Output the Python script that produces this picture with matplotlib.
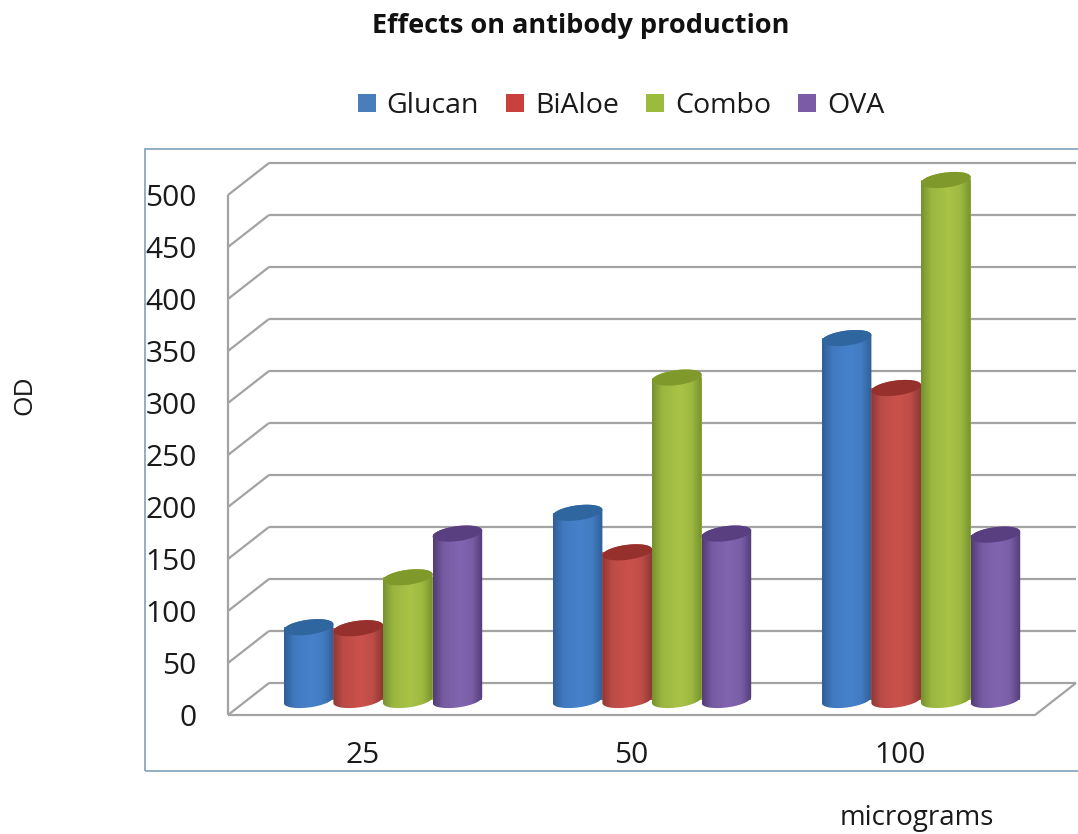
import numpy as np
import matplotlib
matplotlib.use("Agg")
import matplotlib.pyplot as plt
from matplotlib.patches import Polygon, Patch, Rectangle
from matplotlib.colors import LinearSegmentedColormap, to_rgb

# ---- data
categories = ["25", "50", "100"]
series_names = ["Glucan", "BiAloe", "Combo", "OVA"]
glucan = [70, 180, 348]
bialoe = [69, 142, 300]
combo = [118, 310, 500]
ova = [160, 160, 159]
y_ticks = [0, 50, 100, 150, 200, 250, 300, 350, 400, 450, 500]
title = "Effects on antibody production"
y_label = "OD"
x_label = "micrograms"

# ---- style
W, H = 1078, 834
FONT = "Open Sans"
plt.rcParams["font.family"] = [FONT, "DejaVu Sans"]
edge_colors = ["#2f5f98", "#8e3835", "#76922e", "#523c76"]
mid_colors = ["#4682cb", "#cb524c", "#a8c346", "#8265b0"]
cap_colors = ["#2f669f", "#95302c", "#7f9a2b", "#5a3f80"]
legend_colors = ["#4a7ebb", "#c9403c", "#9bbb3c", "#7b5aa6"]
grid_color = "#a3a3a3"
frame_color = "#8aa8bd"
text_color = "#1a1a1a"

fig = plt.figure(figsize=(W / 100, H / 100), dpi=100, facecolor="white")
L, R, T, B = 228, 1035, 195, 715
ax = fig.add_axes([L / W, 1 - B / H, (R - L) / W, (B - T) / H])
ax.set_xlim(-0.5, 2.5)
ax.set_ylim(0, 500)
ax.patch.set_alpha(0)
for s in ax.spines.values():
    s.set_visible(False)

ux = 3.0 / (R - L)      # data units per pixel, x
uy = 500.0 / (B - T)    # data units per pixel, y

# chart frame (runs off the right edge)
fig.add_artist(Rectangle((145 / W, 1 - 771 / H), 1000 / W, 622 / H,
                         transform=fig.transFigure, fill=False,
                         ec=frame_color, lw=1.3, zorder=0))

# 3-D walls
dx, dy = 41 * ux, 32 * uy
gkw = dict(color=grid_color, lw=1.6, clip_on=False, zorder=1, solid_capstyle="butt")
for v in y_ticks:
    ax.plot([-0.5, -0.5 + dx], [v, v + dy], **gkw)
    ax.plot([-0.5 + dx, 2.5 + dx], [v + dy, v + dy], **gkw)
ax.plot([-0.5, -0.5], [0, 500], **gkw)
ax.plot([-0.5, 2.5, 2.5 + dx], [0, 0, dy], **gkw)

# cylinders
a = 24.8      # half width, px
b = 7.5       # half height, px
tilt = 3.0    # right side rises, px
off_x = 20.5 * ux
base = 15 * uy
w = 2 * a * ux
ramp_pos = [0.0, 0.2, 0.55, 0.8, 1.0]


def curve(cx, cy, t):
    return np.column_stack([cx + a * np.cos(t) * ux,
                            cy + (b * np.sin(t) + tilt * np.cos(t)) * uy])


def blend(c1, c2, f):
    r1, r2 = np.array(to_rgb(c1)), np.array(to_rgb(c2))
    return tuple(r1 + (r2 - r1) * f)


all_series = [glucan, bialoe, combo, ova]
z = 3
for i in range(len(categories)):
    for j, vals in enumerate(all_series):
        cx = i + off_x + (j - 1.5) * w
        v = vals[i]
        ax.bar(cx, v, width=w, bottom=base, color=mid_colors[j], lw=0,
               clip_on=False, zorder=z)
        e, m = edge_colors[j], mid_colors[j]
        stops = [e, blend(e, m, 0.75), m, blend(e, m, 0.8), e]
        cmap = LinearSegmentedColormap.from_list("c", list(zip(ramp_pos, stops)))
        outline = np.vstack([curve(cx, base, np.linspace(np.pi, 2 * np.pi, 40)),
                             curve(cx, base + v, np.linspace(0, np.pi, 40))])
        clip = Polygon(outline, closed=True, transform=ax.transData)
        im = ax.imshow(np.linspace(0, 1, 64).reshape(1, -1), cmap=cmap, aspect="auto",
                       interpolation="bilinear",
                       extent=(cx - w / 2, cx + w / 2, base - 12 * uy, base + v + 12 * uy),
                       zorder=z + 0.1)
        im.set_clip_path(clip)
        im.set_clip_box(fig.bbox)
        cap = Polygon(curve(cx, base + v, np.linspace(0, 2 * np.pi, 80)), closed=True,
                      fc=cap_colors[j], ec="none", clip_on=False, zorder=z + 0.2)
        ax.add_patch(cap)
        z += 1
ax.set_xlim(-0.5, 2.5)
ax.set_ylim(0, 500)

# axes text
ax.set_yticks(y_ticks)
ax.set_yticklabels([str(v) for v in y_ticks], fontsize=21.5, color=text_color)
ax.set_xticks([0, 1, 2])
ax.set_xticklabels(categories, fontsize=21.5, color=text_color)
ax.tick_params(axis="both", length=0)
ax.tick_params(axis="y", pad=22.5)
ax.tick_params(axis="x", pad=19)
ax.set_ylabel(y_label, fontsize=19, color=text_color, va="center")
ax.yaxis.set_label_coords((25 - L) / (R - L), (B - 395) / (B - T))
ax.set_xlabel(x_label, fontsize=20, color=text_color, va="center", ha="center")
ax.xaxis.set_label_coords((917 - L) / (R - L), (B - 818) / (B - T))

fig.text(581 / W, 1 - 26 / H, title, fontsize=19.5, fontweight="bold",
         ha="center", va="center", color="#111111")

handles = [Patch(fc=c, ec="none", label=n) for c, n in zip(legend_colors, series_names)]
fig.legend(handles=handles, loc="center", bbox_to_anchor=(621 / W, 1 - 106 / H), ncol=4,
           frameon=False, fontsize=20.5, handlelength=0.64, handleheight=0.64,
           handletextpad=0.38, columnspacing=0.95, labelcolor=text_color)

fig.savefig("out.png", dpi=100, facecolor="white")
